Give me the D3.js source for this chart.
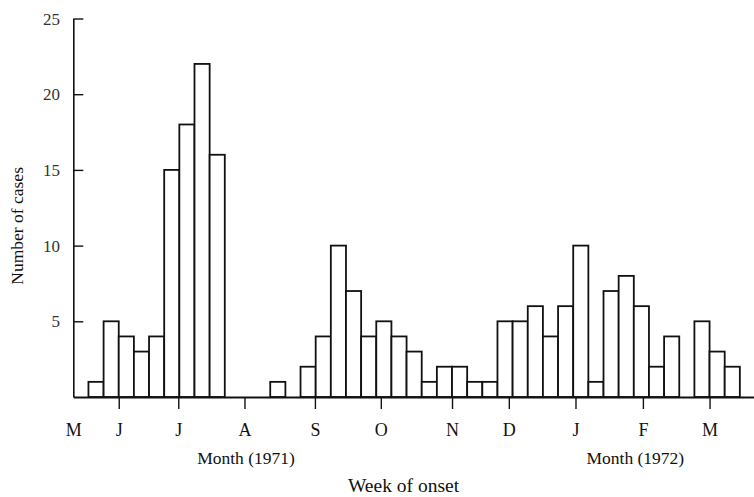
<!DOCTYPE html>
<html>
<head>
<meta charset="utf-8">
<script src="https://cdn.jsdelivr.net/npm/d3@7"></script>
<style>
  body { margin: 0; background: #fff; }
  text { font-family: "Liberation Serif", "DejaVu Serif", serif; fill: #111; }
</style>
</head>
<body>
<svg id="chart" width="754" height="497"></svg>
<script>
// weekly case counts, first bar is week 1 (week 0 is empty)
let cases = [1, 5, 4, 3, 4, 15, 18, 22, 16, 0, 0, 0, 1, 0, 2, 4, 10, 7, 4, 5, 4, 3, 1, 2, 2, 1, 1,
             5, 5, 6, 4, 6, 10, 1, 7, 8, 6, 2, 4, 0, 5, 3, 2];
// month ticks, position in weeks from the axis origin
let monthLabels = ["M", "J", "J", "A", "S", "O", "N", "D", "J", "F", "M"];
let monthWeeks = [0, 3.0, 6.93, 11.3, 15.95, 20.3, 25.0, 28.75, 33.15, 37.6, 42.0];
let yTicks = [5, 10, 15, 20, 25];
let yearLabels = ["Month (1971)", "Month (1972)"];
let yearWeeks = [11.4, 37.1];

const svg = d3.select("#chart");
const plotLeft = 73.3, plotRight = 755, plotBottom = 397, plotTop = 18.5;

const x = d3.scaleLinear().domain([0, 45]).range([plotLeft, plotRight]);
const y = d3.scaleLinear().domain([0, 25]).range([plotBottom, plotTop]);

// bars
svg.append("g")
    .selectAll("rect")
    .data(cases.map((c, i) => ({week: i + 1, n: c})).filter(d => d.n > 0))
    .join("rect")
    .attr("x", d => x(d.week))
    .attr("y", d => y(d.n))
    .attr("width", d => x(d.week + 1) - x(d.week))
    .attr("height", d => y(0) - y(d.n))
    .style("fill", "white")
    .style("stroke", "#111")
    .style("stroke-width", 1.8);

// y axis, ticks pointing inwards
const yAxis = svg.append("g")
    .attr("transform", `translate(${plotLeft},0)`)
    .call(d3.axisRight(y).tickValues(yTicks).tickSize(10).tickSizeOuter(0).tickFormat(""));
yAxis.select(".domain").style("stroke-width", 1.6).style("stroke", "#111");
yAxis.selectAll(".tick line").style("stroke-width", 1.4).style("stroke", "#111");

svg.append("g")
    .selectAll("text")
    .data(yTicks)
    .join("text")
    .attr("x", 60)
    .attr("y", d => y(d) + 6)
    .attr("text-anchor", "end")
    .style("font-size", "17px")
    .style("fill", "#333")
    .text(d => d);

// x axis with month ticks
const xAxis = svg.append("g")
    .attr("transform", `translate(0,${plotBottom})`)
    .call(d3.axisBottom(x).tickValues(monthWeeks).tickSize(12).tickSizeOuter(0)
        .tickFormat((d, i) => monthLabels[i]));
xAxis.select(".domain").style("stroke-width", 1.8).style("stroke", "#111");
xAxis.selectAll(".tick line").style("stroke-width", 1.4).style("stroke", "#111")
    .filter(d => d === 0).remove();
xAxis.selectAll(".tick text")
    .attr("y", 39)
    .attr("dy", 0)
    .style("font-family", "'Liberation Serif', serif")
    .style("font-size", "18px")
    .style("fill", "#111");

// year captions
svg.append("g")
    .selectAll("text")
    .data(yearLabels)
    .join("text")
    .attr("x", (d, i) => x(yearWeeks[i]))
    .attr("y", 464)
    .attr("text-anchor", "middle")
    .style("font-size", "17.5px")
    .text(d => d);

svg.append("text")
    .attr("x", x(21.8))
    .attr("y", 492)
    .attr("text-anchor", "middle")
    .style("font-size", "19.5px")
    .text("Week of onset");

svg.append("text")
    .attr("transform", `translate(23,${y(11.7) + 6}) rotate(-90)`)
    .attr("text-anchor", "middle")
    .style("font-size", "17.5px")
    .text("Number of cases");
</script>
</body>
</html>
